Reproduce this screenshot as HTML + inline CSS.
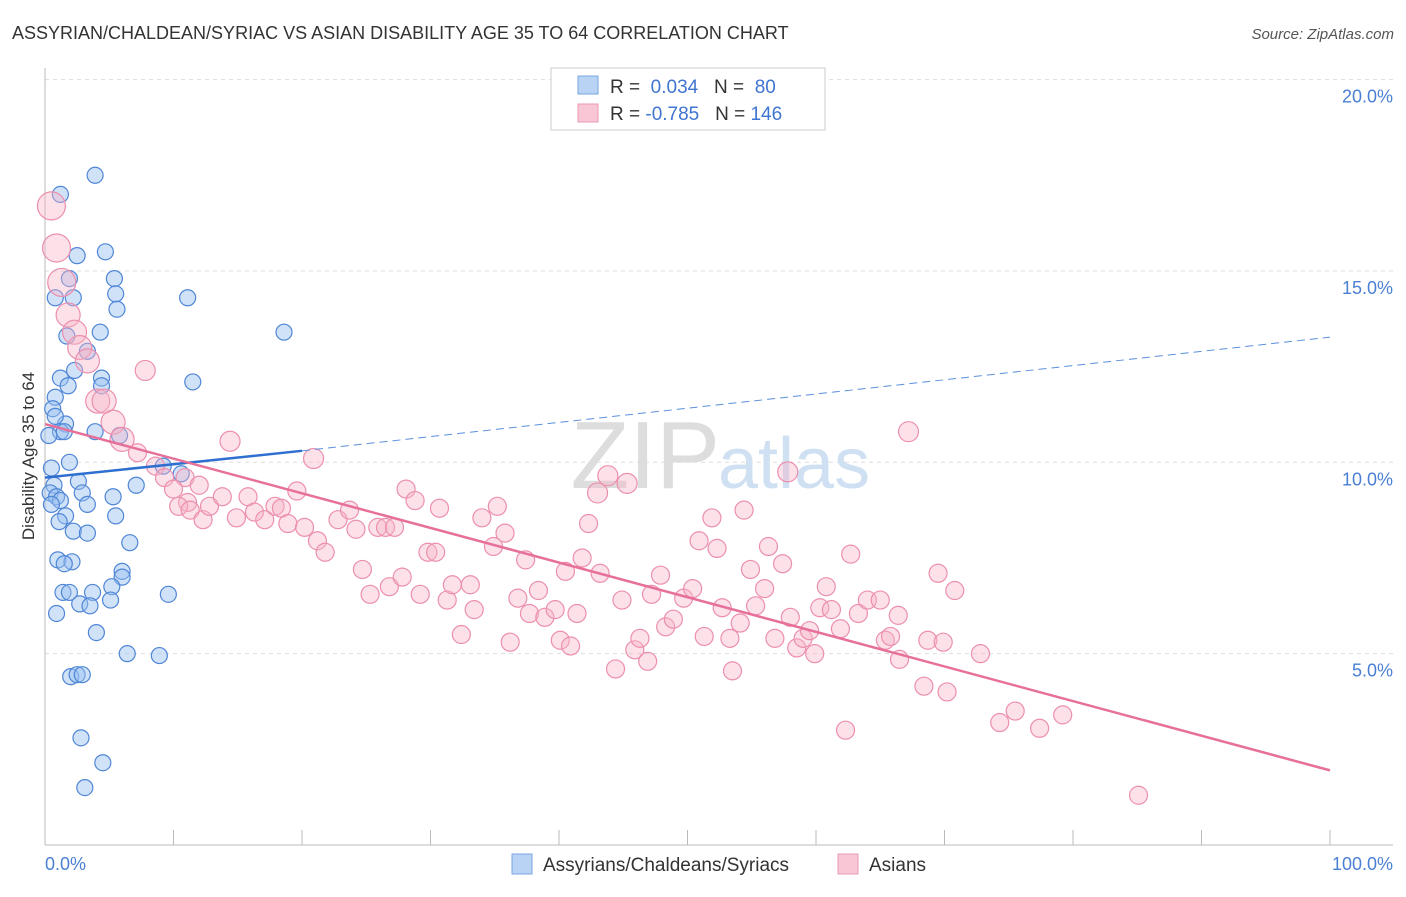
<!DOCTYPE html>
<html><head><meta charset="utf-8"><style>
body{margin:0;background:#fff;font-family:"Liberation Sans",sans-serif;}
svg text{font-family:"Liberation Sans",sans-serif;}
</style></head><body>
<svg id="chart" width="1406" height="892" xmlns="http://www.w3.org/2000/svg">
<text x="12" y="39" font-size="18" fill="#333">ASSYRIAN/CHALDEAN/SYRIAC VS ASIAN DISABILITY AGE 35 TO 64 CORRELATION CHART</text>
<text x="1394" y="39" font-size="15" fill="#555" font-style="italic" text-anchor="end">Source: ZipAtlas.com</text>
<g id="grid"></g>
<text x="720" y="488" font-size="96" fill="#ddd" text-anchor="end" font-family="Liberation Serif">ZIP</text>
<text x="718" y="488" font-size="72" fill="#cfe0f2">atlas</text>
<g id="marks"></g>
<text transform="translate(34,456) rotate(-90)" font-size="17" fill="#333" text-anchor="middle">Disability Age 35 to 64</text>
<text x="45" y="870" font-size="18" fill="#4a7fd4">0.0%</text>
<text x="1393" y="870" font-size="18" fill="#4a7fd4" text-anchor="end">100.0%</text>
<g>
<rect x="551" y="68" width="274" height="62" fill="#fff" stroke="#ccc"/>
<rect x="578" y="76" width="20" height="18" fill="#b8d3f4" stroke="#7aa6e0"/>
<rect x="578" y="104" width="20" height="18" fill="#f9c6d5" stroke="#eb9ab4"/>
<text x="610" y="93" font-size="19" fill="#333">R = <tspan fill="#3f74d0">&#160;0.034</tspan>&#160;&#160;&#160;N = <tspan fill="#3f74d0">&#160;80</tspan></text>
<text x="610" y="120" font-size="19" fill="#333">R = <tspan fill="#3f74d0">-0.785</tspan>&#160;&#160;&#160;N = <tspan fill="#3f74d0">146</tspan></text>
</g>
<g>
<rect x="512" y="854" width="20" height="20" fill="#b8d3f4" stroke="#7aa6e0"/>
<text x="543" y="871" font-size="19" fill="#333">Assyrians/Chaldeans/Syriacs</text>
<rect x="838" y="854" width="20" height="20" fill="#f9c6d5" stroke="#eb9ab4"/>
<text x="869" y="871" font-size="19" fill="#333">Asians</text>
</g>
</svg>
<script>
const yTicks=[5,10,15,20];
const yTickLabels=["5.0%","10.0%","15.0%","20.0%"];
const xTicks=[0,10,20,30,40,50,60,70,80,90,100];
const blueX=[3.9,1.2,4.7,2.5,1.9,5.4,0.8,2.2,5.5,11.1,5.6,1.7,4.3,18.6,3.3,2.3,1.2,1.8,4.4,11.5,4.4,0.8,0.6,1.6,0.8,3.9,1.2,1.5,0.3,5.8,1.9,0.5,9.2,10.6,2.6,0.7,7.1,2.9,0.4,0.9,1.2,5.3,3.3,0.5,1.6,5.5,1.1,2.2,3.3,6.6,1.0,2.1,1.5,6.0,6.0,5.2,1.4,1.9,3.7,9.6,5.1,2.7,3.5,0.9,4.0,6.4,8.9,2.0,2.5,2.9,2.8,4.5,3.1];
const blueY=[17.5,17.0,15.5,15.4,14.8,14.8,14.3,14.3,14.4,14.3,14.0,13.3,13.4,13.4,12.9,12.4,12.2,12.0,12.2,12.1,12.0,11.7,11.4,11.0,11.2,10.8,10.8,10.8,10.7,10.7,10.0,9.85,9.9,9.7,9.5,9.4,9.4,9.2,9.2,9.1,9.0,9.1,8.9,8.9,8.6,8.6,8.45,8.2,8.15,7.9,7.45,7.4,7.35,7.15,7.0,6.75,6.6,6.6,6.6,6.55,6.4,6.3,6.25,6.05,5.55,5.0,4.95,4.4,4.45,4.45,2.8,2.15,1.5];
const pinkX=[0.5,0.9,1.3,1.8,2.3,2.7,3.3,4.1,4.6,5.3,6.0,7.8,14.4,20.9,67.2,57.8,43.8,45.3,43.0,7.2,8.6,9.3,10.9,12.0,10.0,11.1,10.4,11.3,12.3,12.8,13.8,14.9,15.8,16.3,17.1,17.9,18.4,18.9,19.6,20.2,21.2,21.8,22.8,23.7,24.2,24.7,25.3,25.9,26.5,27.2,26.8,27.8,28.1,28.8,29.2,29.8,30.4,30.7,31.3,31.7,32.4,33.1,33.4,34.0,34.9,35.2,35.8,36.2,36.8,37.4,37.7,38.4,38.9,39.7,40.1,40.5,40.9,41.4,41.8,42.3,43.2,44.4,44.9,45.9,46.3,46.9,47.2,47.9,48.3,48.9,49.7,50.4,50.9,51.3,51.9,52.3,52.7,53.3,53.5,54.1,54.4,54.9,55.3,56.0,56.3,56.8,57.4,58.0,58.5,59.0,59.5,59.9,60.3,60.8,61.2,61.9,62.3,62.7,63.3,64.0,65.0,65.4,65.8,66.4,66.5,68.4,68.7,69.5,69.9,70.2,70.8,72.8,74.3,75.5,77.4,79.2,85.1];
const pinkY=[16.7,15.6,14.7,13.85,13.4,13.0,12.65,11.6,11.6,11.05,10.6,12.4,10.55,10.1,10.8,9.75,9.65,9.45,9.2,10.25,9.9,9.6,9.6,9.4,9.3,8.95,8.85,8.75,8.5,8.85,9.1,8.55,9.1,8.7,8.5,8.85,8.8,8.4,9.25,8.3,7.95,7.65,8.5,8.75,8.25,7.2,6.55,8.3,8.3,8.3,6.75,7.0,9.3,9.0,6.55,7.65,7.65,8.8,6.4,6.8,5.5,6.8,6.15,8.55,7.8,8.85,8.15,5.3,6.45,7.45,6.05,6.65,5.95,6.15,5.35,7.15,5.2,6.05,7.5,8.4,7.1,4.6,6.4,5.1,5.4,4.8,6.55,7.05,5.7,5.9,6.45,6.7,7.95,5.45,8.55,7.75,6.2,5.4,4.55,5.8,8.75,7.2,6.25,6.7,7.8,5.4,7.35,5.95,5.15,5.4,5.6,5.0,6.2,6.75,6.15,5.65,3.0,7.6,6.05,6.4,6.4,5.35,5.45,6.0,4.85,4.15,5.35,7.1,5.3,4.0,6.65,5.0,3.2,3.5,3.05,3.4,1.3];
const blueTrend=[[0,9.6],[20,10.3],[100,13.27]];
const pinkTrend=[[0,11.0],[100,1.95]];

const NS="http://www.w3.org/2000/svg";
const X0=45,X1=1330,Y0=845,PPU=38.27;
function sx(v){return X0+(X1-X0)*v/100;}
function sy(v){return Y0-v*PPU;}
function mk(tag,attrs,parent){const e=document.createElementNS(NS,tag);for(const k in attrs)e.setAttribute(k,attrs[k]);parent.appendChild(e);return e;}
const grid=document.getElementById('grid');
const marks=document.getElementById('marks');
yTicks.forEach((t,i)=>{
  const l=mk('line',{x1:X0,x2:1393,y1:sy(t),y2:sy(t),stroke:'#ddd','stroke-dasharray':'4,4'},grid);
  
  
  const tx=mk('text',{x:1393,y:sy(t)+23,'font-size':18,fill:'#4a7fd4','text-anchor':'end'},grid);
  tx.textContent=yTickLabels[i];
  
  
});
const ax=mk('line',{x1:X0,x2:1393,y1:Y0,y2:Y0,stroke:'#bbb'},grid);


const ay=mk('line',{x1:X0,x2:X0,y1:68,y2:Y0,stroke:'#bbb'},grid);


xTicks.forEach(t=>{
  const l=mk('line',{x1:sx(t),x2:sx(t),y1:Y0-15,y2:Y0,stroke:'#bbb'},grid);
  
  
});
blueX.forEach((v,i)=>{
  const c=mk('circle',{cx:sx(v),cy:sy(blueY[i]),r:8,fill:'rgba(150,190,240,0.45)',stroke:'#4f86d6','stroke-width':1.2},marks);
  
  
});
pinkX.forEach((v,i)=>{
  const r=i<11?(i<3?14:12):(i<19?10:9);
  const c=mk('circle',{cx:sx(v),cy:sy(pinkY[i]),r:r,fill:'rgba(248,180,200,0.4)',stroke:'#ec8fae','stroke-width':1.2},marks);
  
  
});
const b1=mk('line',{x1:sx(blueTrend[0][0]),y1:sy(blueTrend[0][1]),x2:sx(blueTrend[1][0]),y2:sy(blueTrend[1][1]),stroke:'#2f6fd0','stroke-width':2.5},marks);


const b2=mk('line',{x1:sx(blueTrend[1][0]),y1:sy(blueTrend[1][1]),x2:sx(blueTrend[2][0]),y2:sy(blueTrend[2][1]),stroke:'#5a8fdc','stroke-width':1,'stroke-dasharray':'8,5'},marks);


const p1=mk('line',{x1:sx(pinkTrend[0][0]),y1:sy(pinkTrend[0][1]),x2:sx(pinkTrend[1][0]),y2:sy(pinkTrend[1][1]),stroke:'#e7709a','stroke-width':2.5},marks);


</script>
</body></html>
